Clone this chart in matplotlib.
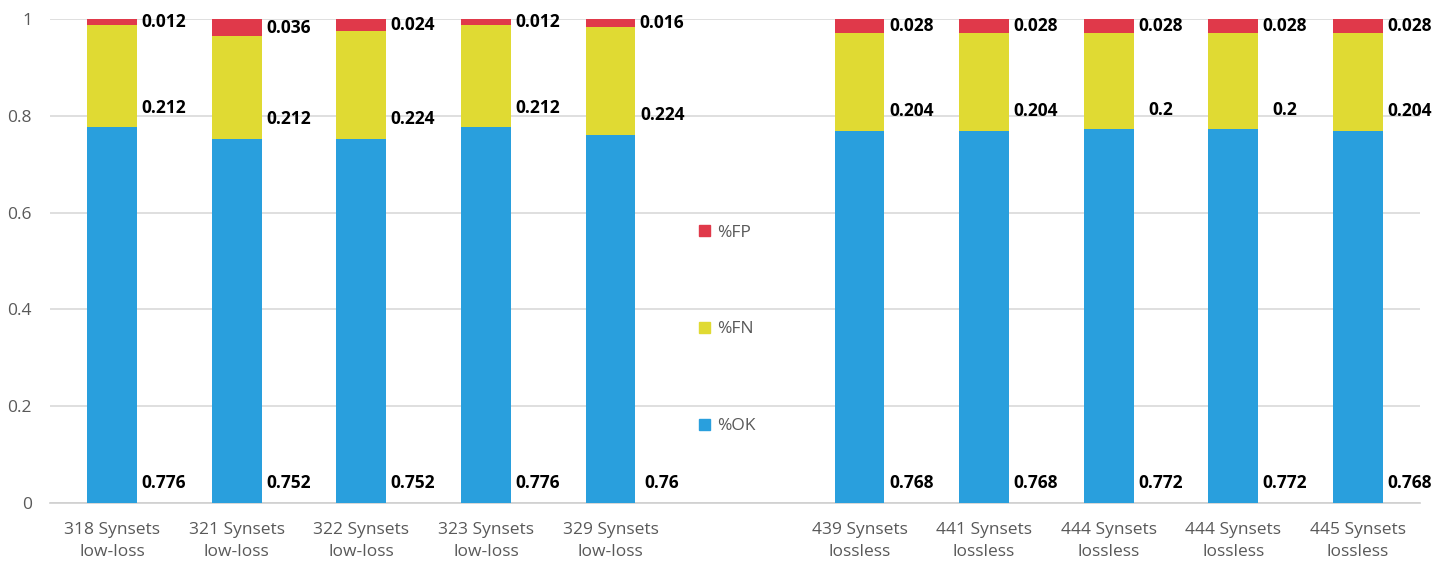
import numpy as np
import matplotlib
matplotlib.use('Agg')
import matplotlib.pyplot as plt
from matplotlib.patches import Patch

# synset sets, low-loss group then lossless group
synsets = ['318', '321', '322', '323', '329', '439', '441', '444', '444', '445']
modes = ['low-loss'] * 5 + ['lossless'] * 5
pct_ok = [0.776, 0.752, 0.752, 0.776, 0.76, 0.768, 0.768, 0.772, 0.772, 0.768]
pct_fn = [0.212, 0.212, 0.224, 0.212, 0.224, 0.204, 0.204, 0.2, 0.2, 0.204]
pct_fp = [0.012, 0.036, 0.024, 0.012, 0.016, 0.028, 0.028, 0.028, 0.028, 0.028]

c_ok = '#299fdd'
c_fn = '#e0da33'
c_fp = '#e0394a'
grey = '#595959'

plt.rcParams['font.family'] = ['Open Sans', 'DejaVu Sans']

fig = plt.figure(figsize=(14.5, 5.65), dpi=100)
ax = fig.add_axes([50 / 1450, 62 / 565, 1370 / 1450, 484 / 565])

n = len(synsets)
idx = np.arange(n)
x = idx + (idx >= 5)  # one empty slot between the two groups
w = 0.4

ok = np.array(pct_ok)
fn = np.array(pct_fn)
fp = np.array(pct_fp)

ax.bar(x, ok, w, color=c_ok, zorder=3)
ax.bar(x, fn, w, bottom=ok, color=c_fn, zorder=3)
ax.bar(x, fp, w, bottom=ok + fn, color=c_fp, zorder=3)

# value labels next to each segment, near its base
def put_labels(vals, bases):
    for xi, v, b in zip(x, vals, bases):
        y = b + min(v / 2, 0.041)
        ax.text(xi + 0.415, y, '%g' % v, ha='center', va='center',
                fontsize=12.5, fontweight='bold', color='black',
                clip_on=False, zorder=4)

put_labels(ok, np.zeros(n))
put_labels(fn, ok)
put_labels(fp, ok + fn)

ax.set_xlim(-0.5, 10.5)
ax.set_ylim(0, 1)
ax.set_yticks([0, 0.2, 0.4, 0.6, 0.8, 1.0])
ax.set_yticklabels(['0', '0.2', '0.4', '0.6', '0.8', '1'])
ax.set_xticks(x)
ax.set_xticklabels(['%s Synsets\n%s' % (s, m) for s, m in zip(synsets, modes)],
                   linespacing=1.45)
ax.tick_params(axis='y', length=0, pad=13, labelsize=12.5, labelcolor=grey)
ax.tick_params(axis='x', length=0, pad=14, labelsize=12.5, labelcolor=grey)
ax.grid(axis='y', color='#d9d9d9', linewidth=1.2, zorder=0)
for s in ['top', 'right', 'left']:
    ax.spines[s].set_visible(False)
ax.spines['bottom'].set_color('#cfcfcf')
ax.spines['bottom'].set_linewidth(1.2)

handles = [Patch(color=c_fp, label='%FP'),
           Patch(color=c_fn, label='%FN'),
           Patch(color=c_ok, label='%OK')]
ax.legend(handles=handles, loc='upper left', bbox_to_anchor=(0.474, 0.575),
          frameon=False, fontsize=12.5, labelcolor=grey, handlelength=0.6,
          handleheight=0.6, handletextpad=0.4, labelspacing=4.65,
          borderpad=0, borderaxespad=0)

fig.savefig('out.png', dpi=100)
